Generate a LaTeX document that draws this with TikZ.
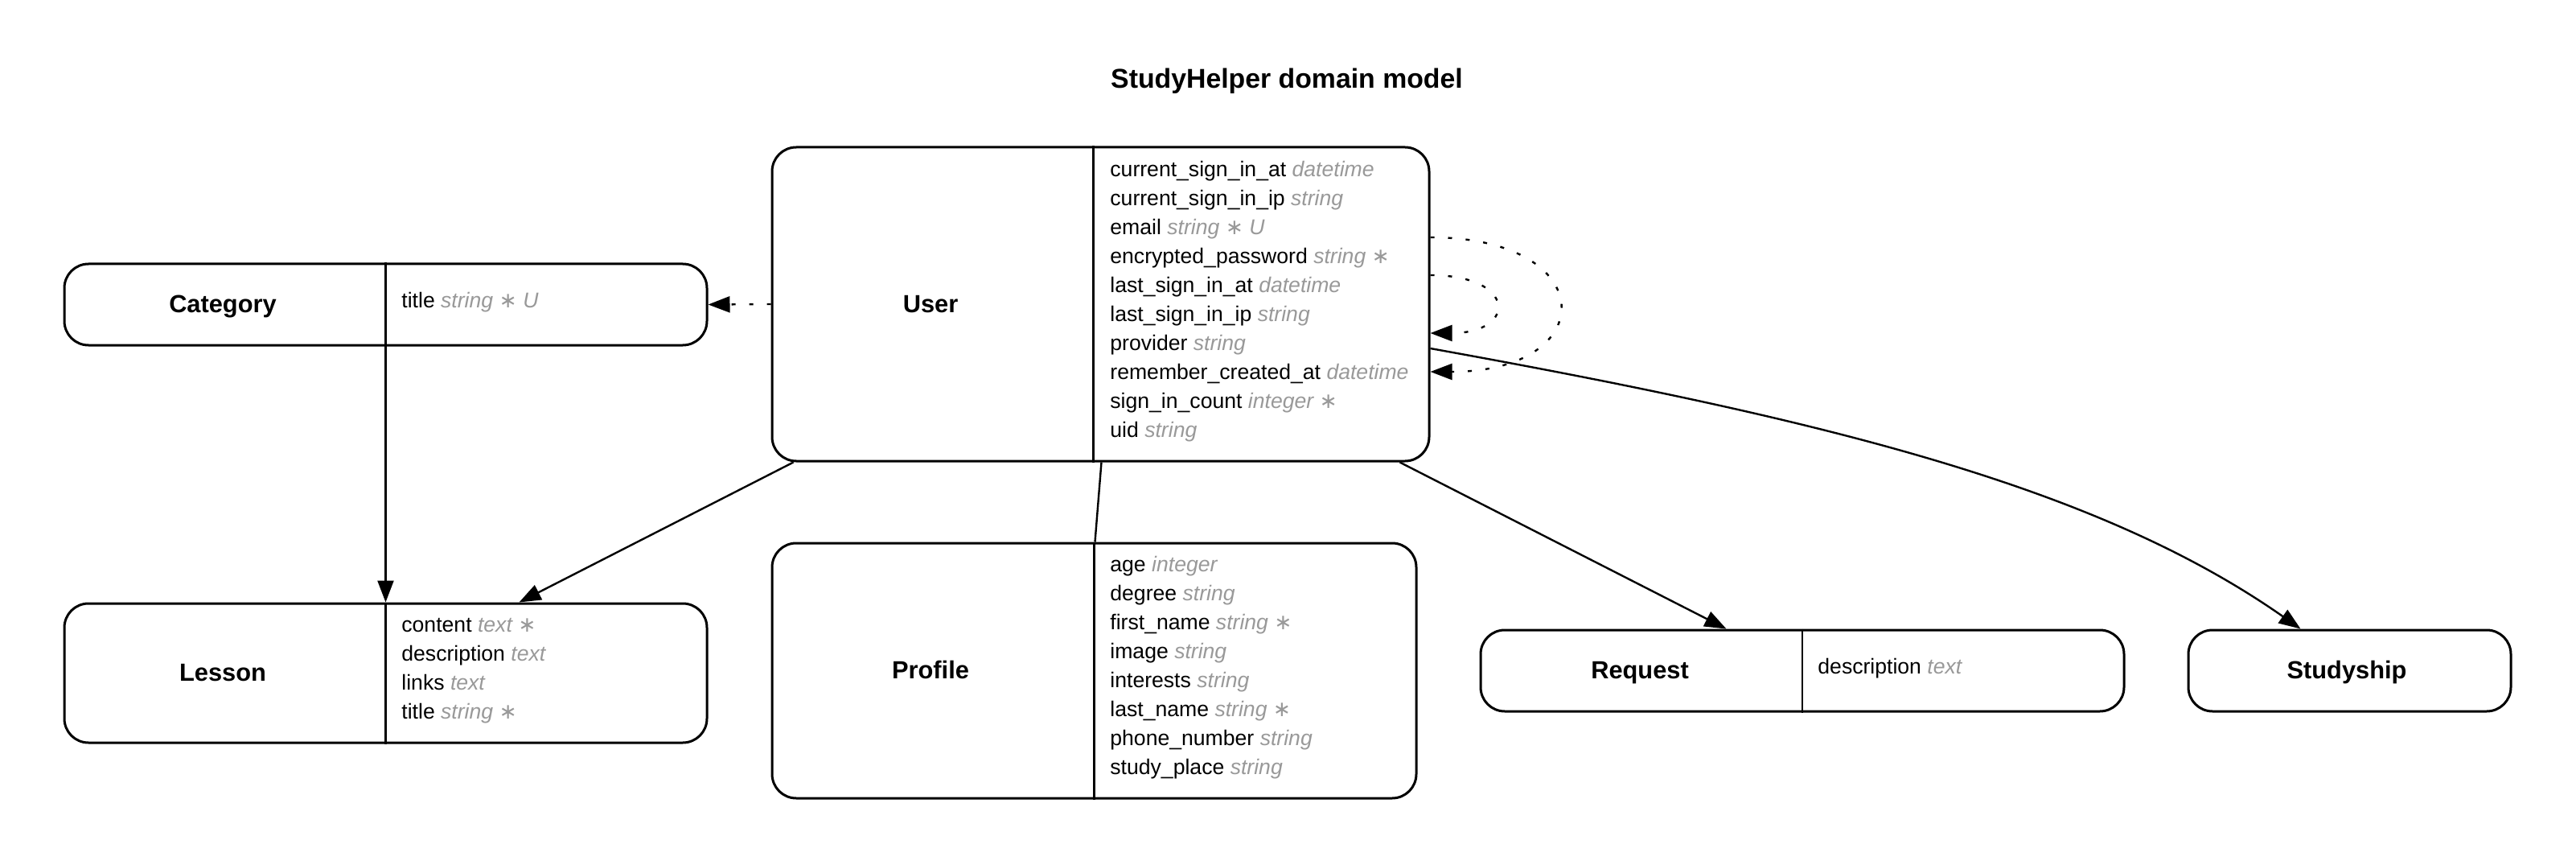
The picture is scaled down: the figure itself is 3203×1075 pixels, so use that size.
\documentclass[tikz,border=0pt]{standalone}
\usepackage{fontspec}
\setmainfont{Liberation Sans}
\newfontfamily\erdast{DejaVu Sans}
\usetikzlibrary{arrows.meta,calc}
\definecolor{typegray}{gray}{0.6}
\newcommand\ty[1]{{\color{typegray}\itshape #1}}
\newcommand\nn{{\upshape\erdast ∗}}
\begin{document}
\begin{tikzpicture}[x=0.5pt,y=-0.5pt,
  entity/.style={draw, line width=1.5pt, rounded corners=15pt, inner sep=0pt, fill=white},
  ename/.style={font=\fontsize{15.4}{18}\selectfont\bfseries, anchor=base, inner sep=0pt},
  eattr/.style={font=\fontsize{13.3}{18}\selectfont, anchor=west, align=left, inner sep=0pt},
  divline/.style={line width=1.1pt},
  plainrel/.style={line width=1.2pt},
  rel/.style={plainrel, -{Triangle[length=13.5pt,width=10pt]}},
  dotrel/.style={rel, dash pattern=on 2.5pt off 8.5pt}]
\useasboundingbox (0,0) rectangle (3203,1075);
\node[font=\fontsize{16.9}{20}\selectfont\bfseries, anchor=base, inner sep=0pt] (title) at (1600,110) {StudyHelper domain model};

\node[entity, minimum width=399.5pt, minimum height=50.5pt] (category) at (479.5,378.5) {};
\node[entity, minimum width=399.5pt, minimum height=86.5pt] (lesson) at (479.5,836.5) {};
\node[entity, minimum width=408.5pt, minimum height=195pt] (user) at (1368.5,378) {};
\node[entity, minimum width=400.5pt, minimum height=158.5pt] (profile) at (1360.5,833.5) {};
\node[entity, minimum width=400pt, minimum height=50.5pt] (request) at (2241,833.5) {};
\node[entity, minimum width=200.5pt, minimum height=50.5pt] (studyship) at (2921.5,833.5) {};

\draw[divline] (category.north) -- (category.south);
\draw[divline] (lesson.north) -- (lesson.south);
\draw[divline] ($(user.north west)+(401,0)$) -- ($(user.south west)+(401,0)$);
\draw[divline] (profile.north) -- (profile.south);
\draw[divline] (request.north) -- (request.south);

\node[ename] (categoryname) at (277,388.5) {Category};
\node[ename] (lessonname) at (277,846.5) {Lesson};
\node[ename] (username) at (1157,388) {User};
\node[ename] (profilename) at (1157,843.5) {Profile};
\node[ename] (requestname) at (2039,843.5) {Request};
\node[ename] (studyshipname) at (2918,843.5) {Studyship};

\node[eattr] (categoryattrs) at (499,376) {title \ty{string \nn{} U}};
\node[eattr] (lessonattrs) at (499,834) {content \ty{text \nn}\\ description \ty{text}\\ links \ty{text}\\ title \ty{string \nn}};
\node[eattr] (userattrs) at (1380,375) {current\_sign\_in\_at \ty{datetime}\\ current\_sign\_in\_ip \ty{string}\\ email \ty{string \nn{} U}\\ encrypted\_password \ty{string \nn}\\ last\_sign\_in\_at \ty{datetime}\\ last\_sign\_in\_ip \ty{string}\\ provider \ty{string}\\ remember\_created\_at \ty{datetime}\\ sign\_in\_count \ty{integer \nn}\\ uid \ty{string}};
\node[eattr] (profileattrs) at (1380,830) {age \ty{integer}\\ degree \ty{string}\\ first\_name \ty{string \nn}\\ image \ty{string}\\ interests \ty{string}\\ last\_name \ty{string \nn}\\ phone\_number \ty{string}\\ study\_place \ty{string}};
\node[eattr] (requestattrs) at (2260,831) {description \ty{text}};

\draw[dotrel] (user.west) -- (category.east);
\draw[rel] (category.south) -- (lesson.north);
\draw[rel] ($(user.south west)+(28,0)$) -- ($(lesson.north west)+(567,0)$);
\draw[plainrel] ($(user.south west)+(411,0)$) -- ($(profile.north west)+(403,0)$);
\draw[rel] ($(user.south west)+(782,0)$) -- ($(request.north west)+(307,0)$);
\draw[rel] ($(user.east)+(0,55)$) .. controls +(500,90) and +(-250,-175) .. ($(studyship.north west)+(141,0)$);
\draw[dotrel] ($(user.east)+(0,-83)$) .. controls +(213,0) and +(213,0) .. ($(user.east)+(0,84)$);
\draw[dotrel] ($(user.east)+(0,-36)$) .. controls +(108,0) and +(108,0) .. ($(user.east)+(0,36)$);
\end{tikzpicture}
\end{document}
